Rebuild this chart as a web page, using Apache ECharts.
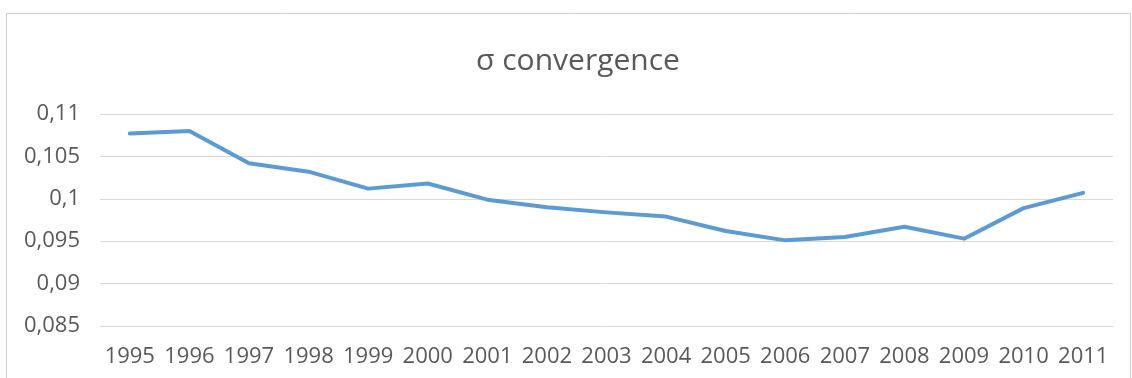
<!DOCTYPE html>
<html>
<head>
<meta charset="utf-8">
<title>σ convergence</title>
<script src="https://cdn.jsdelivr.net/npm/echarts@6/dist/echarts.min.js"></script>
<style>
  html, body { margin: 0; padding: 0; background: #fff; }
  #chart { width: 1132px; height: 378px; }
</style>
</head>
<body>
<div id="chart"></div>
<script>
// Years on the horizontal axis
const years = ['1995', '1996', '1997', '1998', '1999', '2000', '2001', '2002', '2003',
               '2004', '2005', '2006', '2007', '2008', '2009', '2010', '2011'];

// Sigma (dispersion) per year
const sigma = [0.1077, 0.1080, 0.1042, 0.1032, 0.1012, 0.1018, 0.0999, 0.0990, 0.0984,
               0.0979, 0.0962, 0.0951, 0.0955, 0.0967, 0.0953, 0.0989, 0.1007];

// Value axis range and step
const yMin = 0.085;
const yMax = 0.11;
const yStep = 0.005;

const textColor = '#595959';
const gridColor = '#d9d9d9';
const fontFamily = '"Open Sans", "Liberation Sans", sans-serif';

const chart = echarts.init(document.getElementById('chart'), null, { renderer: 'canvas' });

chart.setOption({
  animation: false,
  backgroundColor: '#ffffff',
  graphic: [{
    type: 'rect',
    shape: { x: 6.5, y: 13.5, width: 1124, height: 380 },
    style: { fill: 'none', stroke: '#d0d0d0', lineWidth: 1 },
    silent: true,
    z: -1
  }],
  title: {
    text: 'σ convergence',
    left: 573,
    textAlign: 'center',
    top: 41,
    textStyle: {
      color: textColor,
      fontFamily: fontFamily,
      fontSize: 30,
      fontWeight: 'normal'
    }
  },
  grid: {
    left: 100,
    right: 19,
    top: 114,
    bottom: 52,
    containLabel: false
  },
  xAxis: {
    type: 'category',
    data: years,
    boundaryGap: true,
    axisLine: { show: true, lineStyle: { color: gridColor, width: 1 } },
    axisTick: { show: false },
    axisLabel: {
      color: textColor,
      fontFamily: fontFamily,
      fontSize: 22,
      margin: 20,
      interval: 0
    },
    splitLine: { show: false }
  },
  yAxis: {
    type: 'value',
    min: yMin,
    max: yMax,
    interval: yStep,
    axisLine: { show: false },
    axisTick: { show: false },
    axisLabel: {
      color: textColor,
      fontFamily: fontFamily,
      fontSize: 22,
      margin: 20,
      formatter: function (v) {
        return String(Number(v.toFixed(4))).replace('.', ',');
      }
    },
    splitLine: { show: true, lineStyle: { color: gridColor, width: 1 } }
  },
  series: [{
    type: 'line',
    data: sigma,
    symbol: 'none',
    smooth: false,
    lineStyle: { color: '#5b9bd5', width: 4, cap: 'round', join: 'round' },
    itemStyle: { color: '#5b9bd5' }
  }]
});
</script>
</body>
</html>
